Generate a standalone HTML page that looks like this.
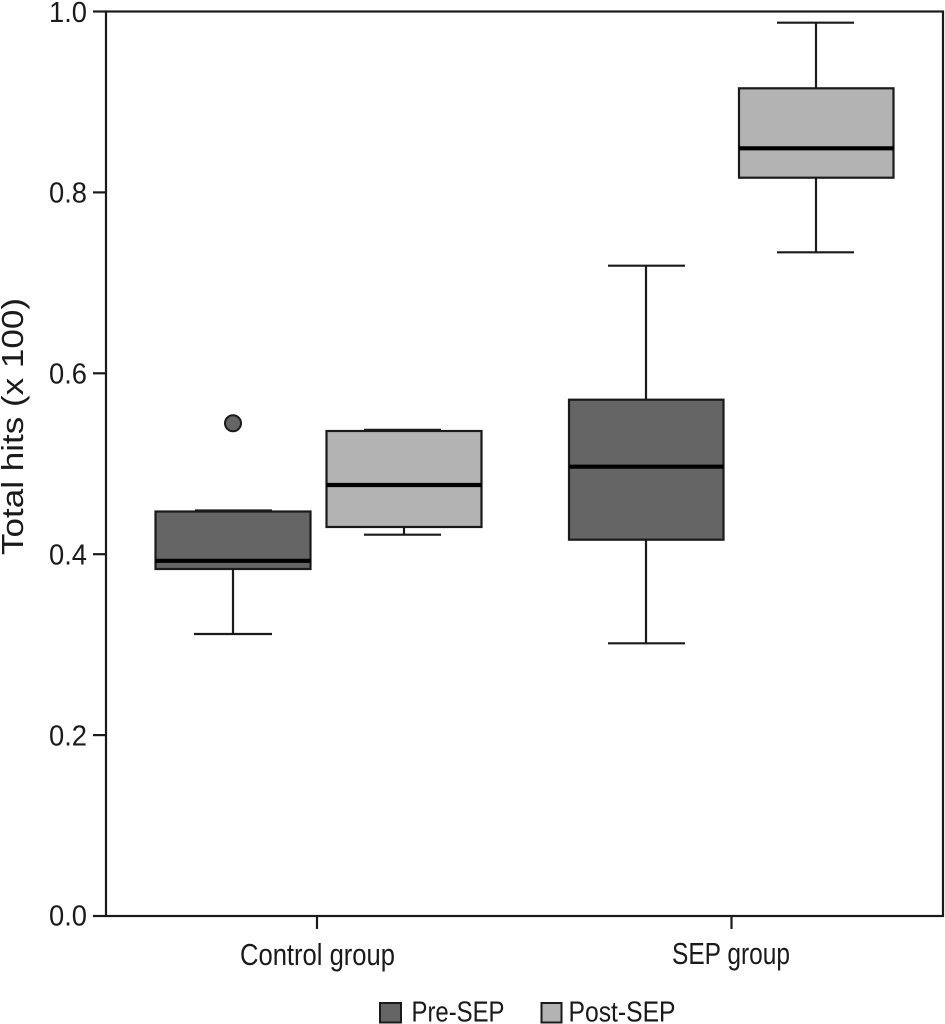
<!DOCTYPE html>
<html>
<head>
<meta charset="utf-8">
<style>
  html, body { margin: 0; padding: 0; background: #ffffff; }
  svg { display: block; }
  text { font-family: "Liberation Sans", "DejaVu Sans", sans-serif; fill: #1a1a1a; }
</style>
</head>
<body>
<svg width="945" height="1024" viewBox="0 0 945 1024" xmlns="http://www.w3.org/2000/svg">
  <rect x="0" y="0" width="945" height="1024" fill="#ffffff"/>

  <!-- Plot frame -->
  <rect x="106" y="11.5" width="837" height="904.5" fill="none" stroke="#1a1a1a" stroke-width="2.2"/>

  <!-- Y ticks -->
  <g stroke="#1a1a1a" stroke-width="2.2">
    <line x1="93" y1="11.5" x2="106" y2="11.5"/>
    <line x1="93" y1="192.4" x2="106" y2="192.4"/>
    <line x1="93" y1="373.3" x2="106" y2="373.3"/>
    <line x1="93" y1="554.2" x2="106" y2="554.2"/>
    <line x1="93" y1="735.1" x2="106" y2="735.1"/>
    <line x1="93" y1="916" x2="106" y2="916"/>
    <!-- X ticks -->
    <line x1="317" y1="916" x2="317" y2="929"/>
    <line x1="731.5" y1="916" x2="731.5" y2="929"/>
  </g>

  <!-- Y tick labels -->
  <g font-size="28.5" text-anchor="end">
    <text x="87" y="21.8" textLength="38" lengthAdjust="spacingAndGlyphs">1.0</text>
    <text x="87" y="202.7" textLength="38" lengthAdjust="spacingAndGlyphs">0.8</text>
    <text x="87" y="383.6" textLength="38" lengthAdjust="spacingAndGlyphs">0.6</text>
    <text x="87" y="564.5" textLength="38" lengthAdjust="spacingAndGlyphs">0.4</text>
    <text x="87" y="745.4" textLength="38" lengthAdjust="spacingAndGlyphs">0.2</text>
    <text x="87" y="925.5" textLength="38" lengthAdjust="spacingAndGlyphs">0.0</text>
  </g>

  <!-- Y axis label -->
  <text transform="translate(23,555) rotate(-90)" x="0" y="0" font-size="31" textLength="257" lengthAdjust="spacingAndGlyphs">Total hits (x 100)</text>

  <!-- X labels -->
  <text x="240" y="965" font-size="31" textLength="155" lengthAdjust="spacingAndGlyphs">Control group</text>
  <text x="672" y="964" font-size="31" textLength="118" lengthAdjust="spacingAndGlyphs">SEP group</text>

  <!-- Whiskers -->
  <g stroke="#1a1a1a" stroke-width="2.2" fill="none">
    <!-- Control Pre -->
    <line x1="233" y1="569" x2="233" y2="634"/>
    <line x1="194" y1="634" x2="272" y2="634"/>
    <line x1="195" y1="510.5" x2="272" y2="510.5"/>
    <!-- Control Post -->
    <line x1="404" y1="527" x2="404" y2="534.7"/>
    <line x1="364" y1="534.7" x2="441" y2="534.7"/>
    <line x1="364" y1="429.8" x2="441" y2="429.8"/>
    <!-- SEP Pre -->
    <line x1="646" y1="265.7" x2="646" y2="399.7"/>
    <line x1="608" y1="265.7" x2="685" y2="265.7"/>
    <line x1="646" y1="539.7" x2="646" y2="643.3"/>
    <line x1="608" y1="643.3" x2="685" y2="643.3"/>
    <!-- SEP Post -->
    <line x1="816" y1="22.7" x2="816" y2="88.3"/>
    <line x1="777" y1="22.7" x2="854" y2="22.7"/>
    <line x1="816" y1="177.7" x2="816" y2="252.3"/>
    <line x1="777" y1="252.3" x2="854" y2="252.3"/>
  </g>

  <!-- Boxes -->
  <g stroke="#1a1a1a" stroke-width="2.2">
    <rect x="155.5" y="511.5" width="155" height="57.5" fill="#656565"/>
    <rect x="326.5" y="431" width="155" height="96" fill="#b3b3b3"/>
    <rect x="569" y="399.7" width="154.5" height="140" fill="#656565"/>
    <rect x="739" y="88.3" width="154.5" height="89.4" fill="#b3b3b3"/>
  </g>

  <!-- Medians -->
  <g stroke="#000000" stroke-width="4.2">
    <line x1="155.5" y1="560.8" x2="310.5" y2="560.8"/>
    <line x1="326.5" y1="485" x2="481.5" y2="485"/>
    <line x1="569" y1="466.7" x2="723.5" y2="466.7"/>
    <line x1="739" y1="148.3" x2="893.5" y2="148.3"/>
  </g>

  <!-- Outlier -->
  <circle cx="233" cy="423.3" r="8" fill="#656565" stroke="#1a1a1a" stroke-width="2"/>

  <!-- Legend -->
  <rect x="380" y="1003" width="21" height="19.5" fill="#656565" stroke="#1a1a1a" stroke-width="2"/>
  <text x="411.5" y="1021.5" font-size="28.5" textLength="93" lengthAdjust="spacingAndGlyphs">Pre-SEP</text>
  <rect x="541.5" y="1003" width="20" height="19.5" fill="#b3b3b3" stroke="#1a1a1a" stroke-width="2"/>
  <text x="568.5" y="1021.5" font-size="28.5" textLength="107" lengthAdjust="spacingAndGlyphs">Post-SEP</text>
</svg>
</body>
</html>
